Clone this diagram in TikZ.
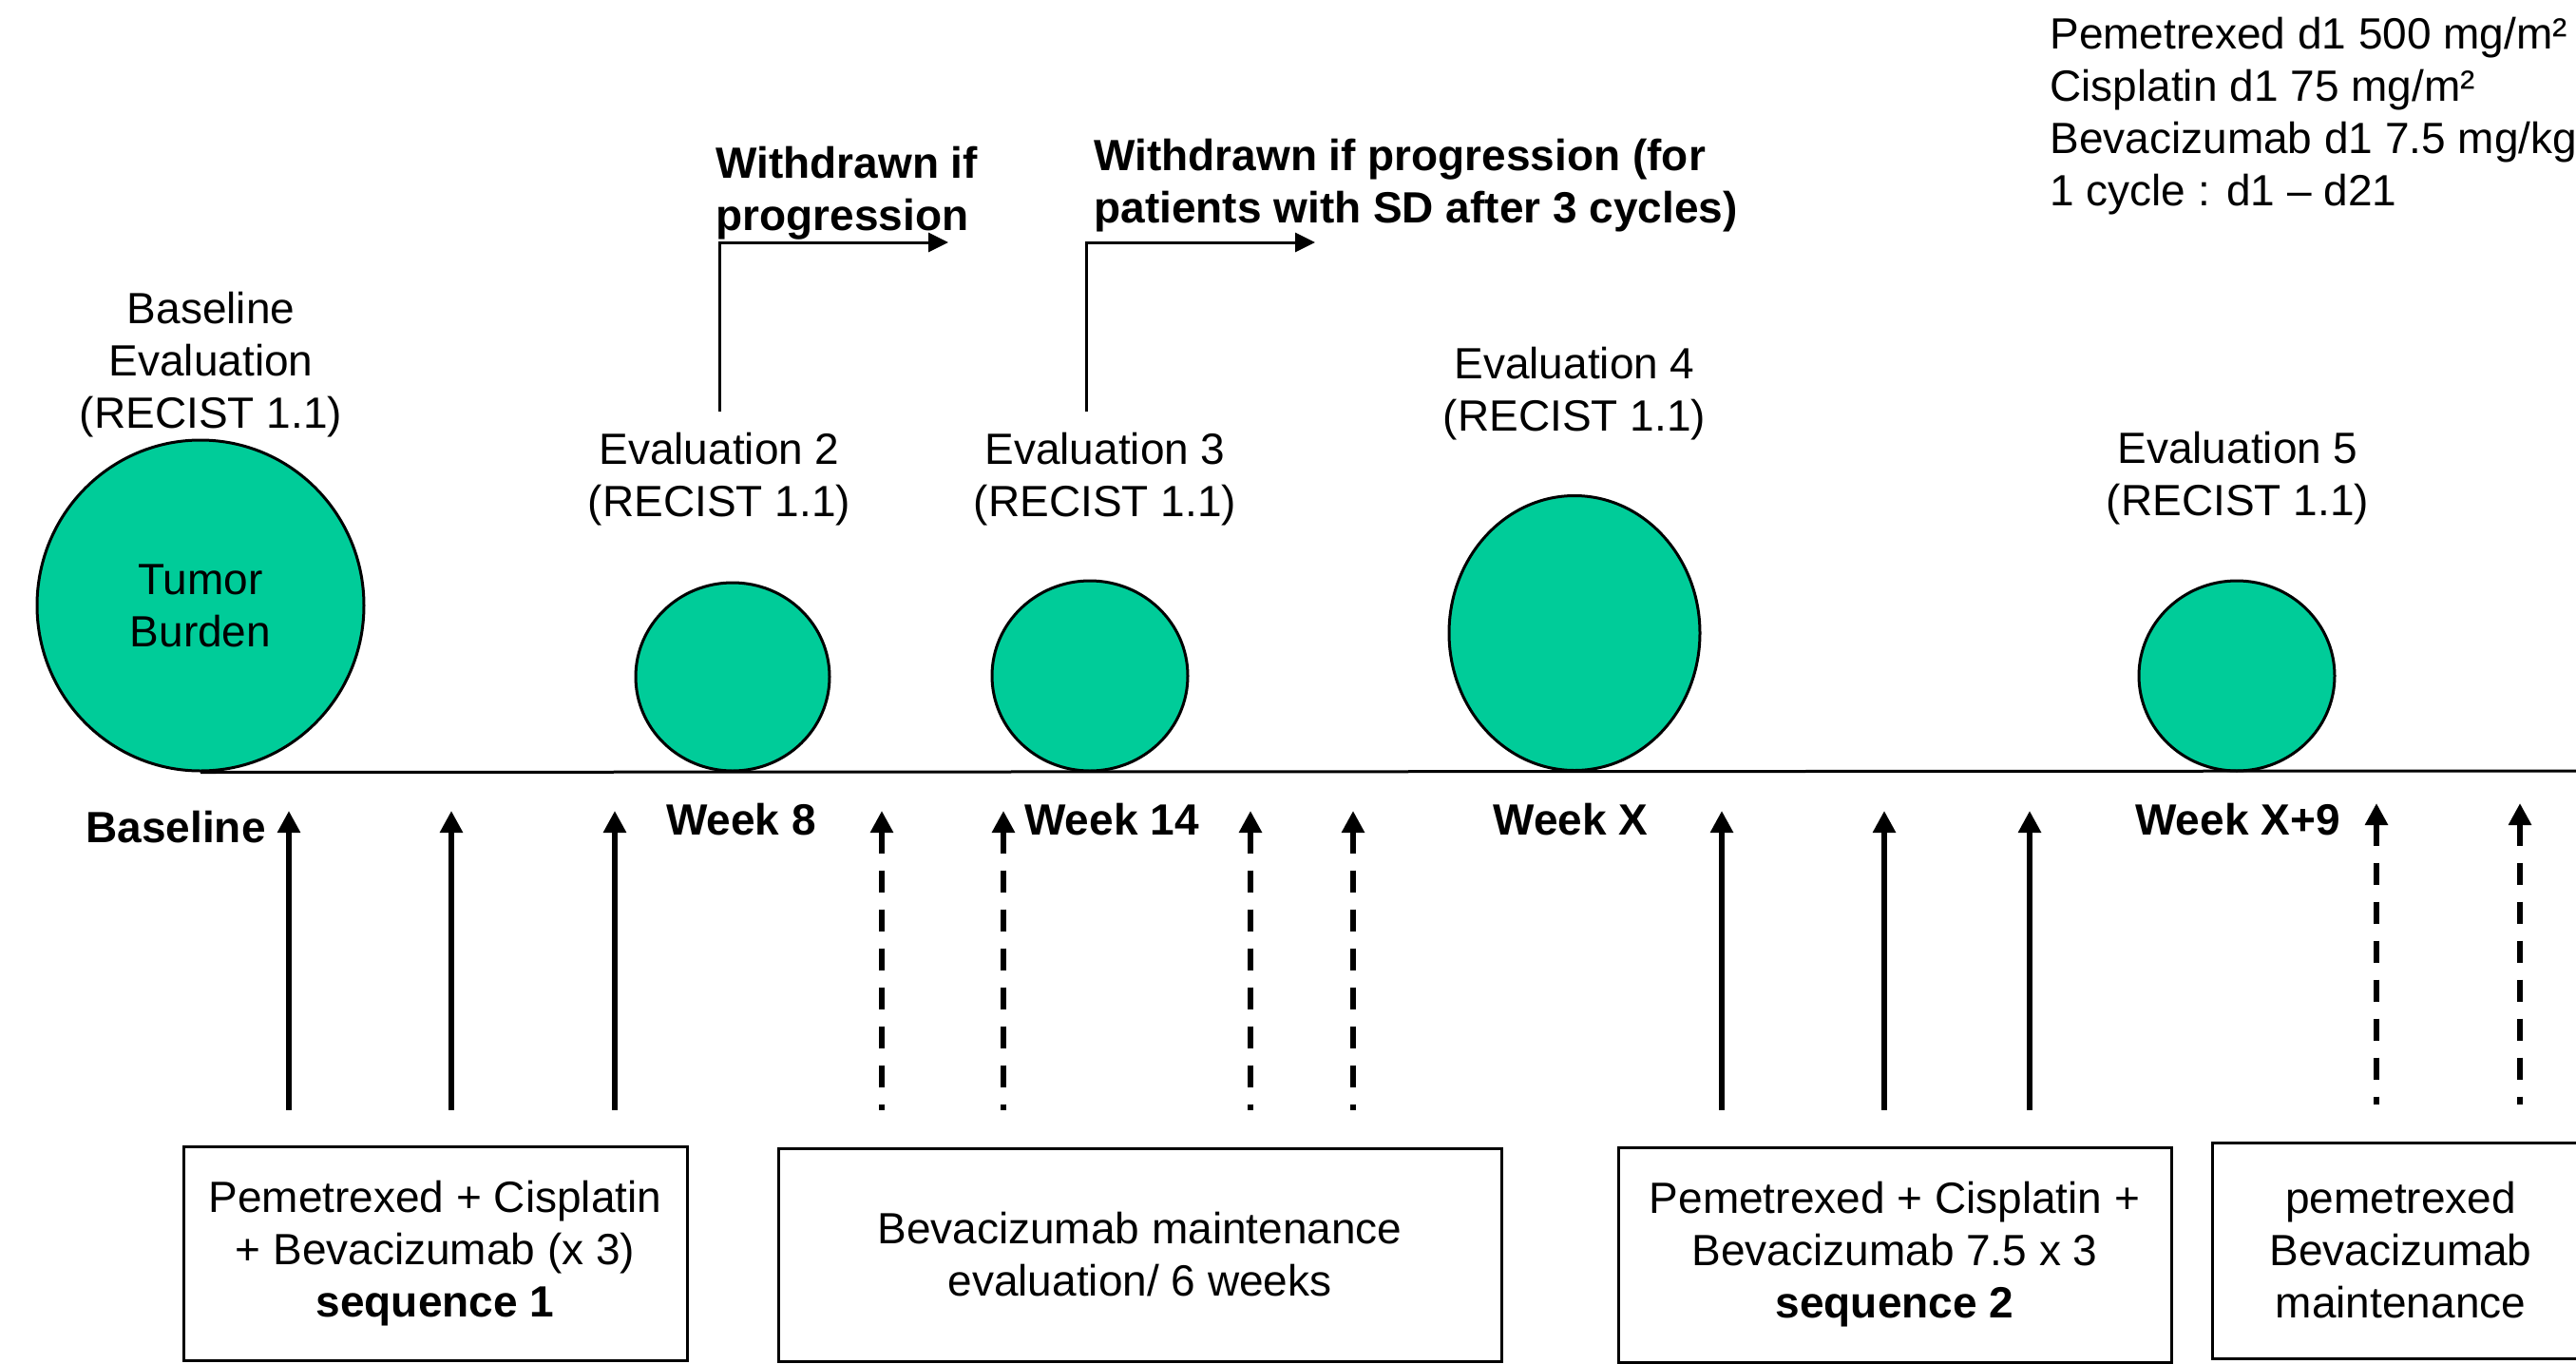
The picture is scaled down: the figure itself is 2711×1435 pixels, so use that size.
\documentclass[tikz,border=0pt]{standalone}
\usepackage{fontspec}
\setmainfont{Liberation Sans}
\usetikzlibrary{arrows.meta,shapes.geometric}
\definecolor{tumor}{HTML}{00CC99}
\begin{document}
\begin{tikzpicture}[x=0.5pt,y=-0.5pt,
  txt/.style={font=\fontsize{23}{27.5}\selectfont, inner sep=0pt, align=center},
  btxt/.style={font=\fontsize{23}{27.5}\selectfont\bfseries, inner sep=0pt, align=center},
  tumorshape/.style={ellipse, draw=black, line width=1.5pt, fill=tumor, inner sep=0pt,
    font=\fontsize{23}{27.5}\selectfont, align=center},
  box/.style={draw=black, line width=1.5pt, inner sep=0pt, align=center,
    font=\fontsize{23}{27.5}\selectfont},
  solidarrow/.style={line width=3pt, {Triangle[length=11.5pt,width=11.5pt]}-},
  dasharrow/.style={solidarrow, dash pattern=on 11.5pt off 9pt},
  wdarrow/.style={line width=1.5pt, -{Triangle[length=10.5pt,width=10pt]}},
  axisline/.style={line width=1.5pt}
]
\useasboundingbox (0,0) rectangle (2711,1435);
\clip (0,0) rectangle (2711,1435);

% tumour burden ellipses
\node[tumorshape, minimum width=172pt, minimum height=174pt] (c0) at (211,637) {Tumor\\Burden};
\node[tumorshape, minimum width=102pt, minimum height=99pt] (c1) at (771,712) {};
\node[tumorshape, minimum width=103pt, minimum height=100pt] (c2) at (1147,711) {};
\node[tumorshape, minimum width=132pt, minimum height=144.5pt] (c3) at (1657,666) {};
\node[tumorshape, minimum width=103pt, minimum height=100pt] (c4) at (2354,711) {};

% time axis
\coordinate (axisend) at (2720,811);
\draw[axisline] (c0.south) -- (axisend);

% evaluation labels
\node[txt] (l0) at (222,384) {Baseline\\Evaluation\\(RECIST 1.1)};
\node[txt] (l2) at (757,504) {Evaluation 2\\(RECIST 1.1)};
\node[txt] (l3) at (1163,504) {Evaluation 3\\(RECIST 1.1)};
\node[txt] (l4) at (1657,414) {Evaluation 4\\(RECIST 1.1)};
\node[txt] (l5) at (2355,503) {Evaluation 5\\(RECIST 1.1)};

% withdrawal notes
\node[btxt, anchor=west, align=left] (w1) at (753,203) {Withdrawn if\\progression};
\node[btxt, anchor=west, align=left] (w2) at (1151,195) {Withdrawn if progression (for\\patients with SD after 3 cycles)};
\coordinate (w1s) at (757,433); \coordinate (w1c) at (757,255); \coordinate (w1e) at (998,255);
\coordinate (w2s) at (1143,433); \coordinate (w2c) at (1143,255); \coordinate (w2e) at (1384,255);
\draw[wdarrow] (w1s) -- (w1c) -- (w1e);
\draw[wdarrow] (w2s) -- (w2c) -- (w2e);

% dosing
\node[txt, anchor=west, align=left] (dose) at (2157,122) {Pemetrexed d1 500 mg/m²\\Cisplatin d1 75 mg/m²\\Bevacizumab d1 7.5 mg/kg\\1 cycle : d1 – d21};

% week labels
\node[btxt] (wk0) at (185,870) {Baseline};
\node[btxt] (wk8) at (780,862) {Week 8};
\node[btxt] (wk14) at (1170,862) {Week 14};
\node[btxt] (wkX) at (1653,862) {Week X};
\node[btxt] (wkX9) at (2355,862) {Week X+9};

% administration arrows
\foreach \n/\x in {s1/304,s2/475,s3/647,s4/1812,s5/1983,s6/2136}{
  \coordinate (t\n) at (\x,853); \coordinate (b\n) at (\x,1168);
  \draw[solidarrow] (t\n) -- (b\n);
}
\foreach \n/\x in {d1/928,d2/1056,d3/1316,d4/1424}{
  \coordinate (t\n) at (\x,853); \coordinate (b\n) at (\x,1168);
  \draw[dasharrow] (t\n) -- (b\n);
}
\foreach \n/\x in {d5/2501,d6/2652}{
  \coordinate (t\n) at (\x,845); \coordinate (b\n) at (\x,1162);
  \draw[dasharrow] (t\n) -- (b\n);
}

% treatment boxes
\node[box, minimum width=265pt, minimum height=112.5pt] (seq1) at (458,1318.5)
  {Pemetrexed + Cisplatin\\+ Bevacizumab (x 3)\\\textbf{sequence 1}};
\node[box, minimum width=380.5pt, minimum height=112pt] (maint1) at (1199.5,1320)
  {Bevacizumab maintenance\\evaluation/ 6 weeks};
\node[box, minimum width=291pt, minimum height=113pt] (seq2) at (1994,1320)
  {Pemetrexed + Cisplatin +\\Bevacizumab 7.5 x 3\\\textbf{sequence 2}};
\node[box, minimum width=198.5pt, minimum height=113.5pt] (maint2) at (2526.5,1315.5)
  {pemetrexed\\Bevacizumab\\maintenance};
\end{tikzpicture}
\end{document}
